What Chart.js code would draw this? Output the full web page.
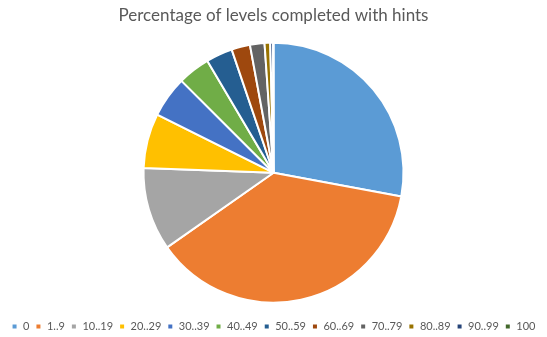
<!DOCTYPE html>
<html>
<head>
<meta charset="utf-8">
<script src="https://cdn.jsdelivr.net/npm/chart.js@4/dist/chart.umd.min.js"></script>
<style>
  html, body { margin: 0; padding: 0; background: #fff; }
  #wrap { width: 547px; height: 337px; }
</style>
</head>
<body>
<div id="wrap"><canvas id="chart1" width="547" height="337"></canvas></div>
<script>
// hint buckets and share of levels in each one (%)
const buckets = ['0', '1..9', '10..19', '20..29', '30..39', '40..49', '50..59', '60..69', '70..79', '80..89', '90..99', '100'];
const shares = [27.9, 37.3, 10.3, 6.8, 5.1, 4.0, 3.3, 2.3, 1.8, 0.7, 0.35, 0.05];
const sliceColors = ['#5B9BD5', '#ED7D31', '#A5A5A5', '#FFC000', '#4472C4', '#70AD47',
                     '#255E91', '#9E480E', '#636363', '#997300', '#264478', '#43682B'];

const data = {
    labels: buckets,
    datasets: [{
        data: shares,
        backgroundColor: sliceColors,
        borderColor: '#ffffff',
        borderWidth: 2,
        radius: 130
    }]
};

const config = {
    type: 'pie',
    data: data,
    options: {
        responsive: false,
        devicePixelRatio: 1,
        animation: false,
        // legend sits low, close to the bottom edge
        layout: { padding: { top: 0, bottom: -5, left: 0, right: 0 } },
        plugins: {
            title: {
                display: true,
                text: 'Percentage of levels completed with hints',
                color: '#595959',
                font: { family: 'Lato', size: 17, weight: 'normal' },
                padding: { top: 5, bottom: 5 }
            },
            legend: {
                position: 'bottom',
                labels: {
                    color: '#595959',
                    font: { family: 'Lato', size: 11 },
                    boxWidth: 6,
                    boxHeight: 6,
                    padding: 6
                }
            },
            tooltip: { enabled: false }
        }
    }
};

const myChart = new Chart(document.getElementById('chart1').getContext('2d'), config);
</script>
</body>
</html>
